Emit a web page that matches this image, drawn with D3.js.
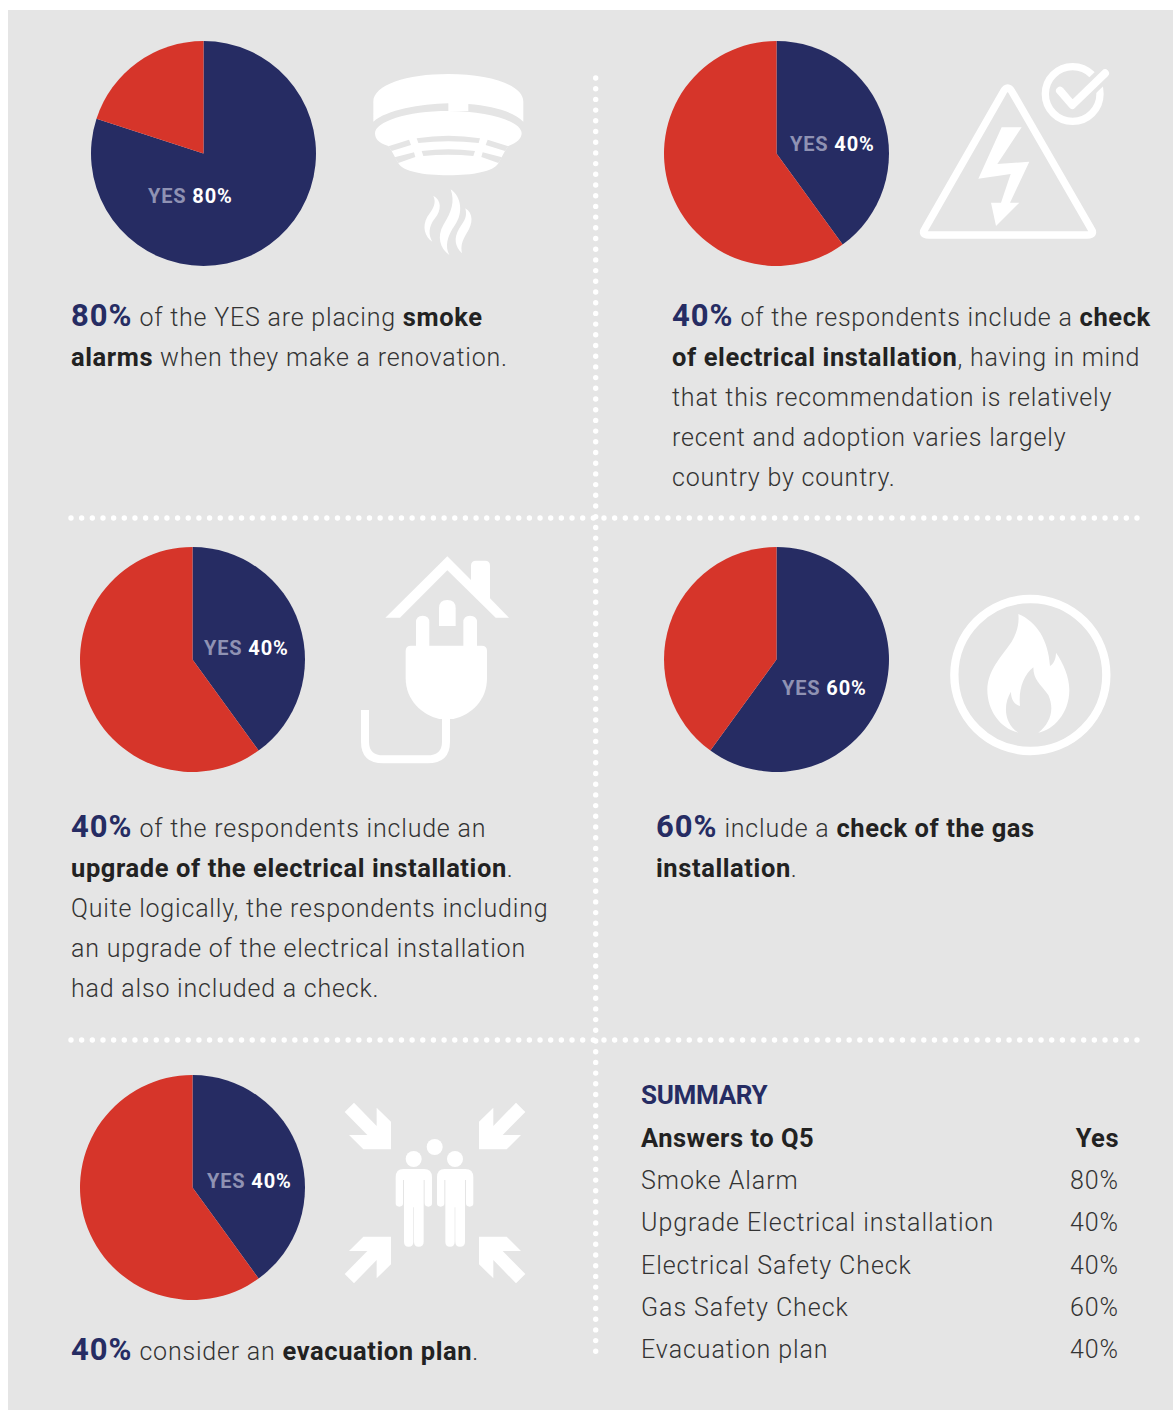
<!DOCTYPE html>
<html>
<head>
<meta charset="utf-8">
<script src="https://cdnjs.cloudflare.com/ajax/libs/d3/7.8.5/d3.min.js"></script>
<style>
html, body { margin: 0; padding: 0; background: #fff; }
svg { display: block; }
text { font-family: Roboto, sans-serif; }
</style>
</head>
<body>
<div id="chart"></div>
<script>
// values
const answers = ["Smoke Alarm", "Upgrade Electrical installation", "Electrical Safety Check", "Gas Safety Check", "Evacuation plan"];
const yesShare = [80, 40, 40, 60, 40];

// order the pies sit on the page: which answer each one shows
const pieAnswer = [0, 2, 1, 3, 4];
const pieCenterX = [203.5, 776.5, 192.5, 776.5, 192.5];
const pieCenterY = [153.5, 153.5, 659.5, 659.5, 1187.5];
const labelDx = [-55.5, 13.5, 11.5, 5.5, 14.5];
const labelDy = [49.5, -2.5, -4.5, 35.5, 0.5];

// b = bold dark, p = navy percent, anything else light
const captions = [
  { x: 71, y: 326, lines: [
    [["p", "80%"], ["", " of the YES are placing "], ["b", "smoke"]],
    [["b", "alarms"], ["", " when they make a renovation."]]
  ]},
  { x: 672, y: 326, lines: [
    [["p", "40%"], ["", " of the respondents include a "], ["b", "check"]],
    [["b", "of electrical installation"], ["", ", having in mind"]],
    [["", "that this recommendation is relatively"]],
    [["", "recent and adoption varies largely"]],
    [["", "country by country."]]
  ]},
  { x: 71, y: 837, lines: [
    [["p", "40%"], ["", " of the respondents include an"]],
    [["b", "upgrade of the electrical installation"], ["", "."]],
    [["", "Quite logically, the respondents including"]],
    [["", "an upgrade of the electrical installation"]],
    [["", "had also included a check."]]
  ]},
  { x: 656, y: 837, lines: [
    [["p", "60%"], ["", " include a "], ["b", "check of the gas"]],
    [["b", "installation"], ["", "."]]
  ]},
  { x: 71, y: 1360, lines: [
    [["p", "40%"], ["", " consider an "], ["b", "evacuation plan"], ["", "."]]
  ]}
];

const width = 1173;
const height = 1410;
const navy = "#262c63";
const red = "#d6352a";
const panel = "#e5e5e5";

const svg = d3.select("#chart")
  .append("svg")
  .attr("width", width)
  .attr("height", height);

svg.append("rect")
  .attr("x", 8).attr("y", 10)
  .attr("width", width - 8).attr("height", height - 10)
  .attr("fill", panel);

// dotted dividers
const dividers = [[595.7, 78, 595.7, 1353, 10.7], [71, 518, 1137, 518, 10.66], [71, 1040, 1137, 1040, 10.66]];
svg.selectAll("line.divider")
  .data(dividers)
  .enter()
  .append("line")
  .attr("class", "divider")
  .attr("x1", d => d[0]).attr("y1", d => d[1])
  .attr("x2", d => d[2]).attr("y2", d => d[3])
  .attr("stroke", "#fff")
  .attr("stroke-width", 5.4)
  .attr("stroke-linecap", "round")
  .attr("stroke-dasharray", d => `0 ${d[4]}`);

// pies
const pie = d3.pie().sort(null);
const arc = d3.arc().innerRadius(0).outerRadius(112.5);

pieAnswer.forEach((a, i) => {
  const g = svg.append("g")
    .attr("transform", `translate(${pieCenterX[i]},${pieCenterY[i]})`);
  const share = yesShare[a];
  g.selectAll("path")
    .data(pie([share, 100 - share]))
    .enter()
    .append("path")
    .attr("d", arc)
    .attr("fill", (d, j) => j === 0 ? navy : red);
  const label = g.append("text")
    .attr("x", labelDx[i])
    .attr("y", labelDy[i])
    .style("font-size", "20px")
    .style("font-weight", 700)
    .style("letter-spacing", "0.85px");
  label.append("tspan").attr("fill", "#8f92b3").text("YES ");
  label.append("tspan").attr("fill", "#fff").text(share + "%");
});

// captions
const runStyle = {
  p: { size: 31, weight: 700, fill: navy, spacing: 1 },
  b: { size: 25.5, weight: 700, fill: "#222", spacing: 0.6 },
  "": { size: 25, weight: 300, fill: "#333", spacing: 0.8 }
};

captions.forEach(c => {
  c.lines.forEach((line, i) => {
    const t = svg.append("text")
      .attr("x", c.x)
      .attr("y", c.y + i * 40)
      .attr("xml:space", "preserve")
      .style("white-space", "pre");
    line.forEach(([kind, str]) => {
      const s = runStyle[kind];
      t.append("tspan")
        .attr("fill", s.fill)
        .style("font-size", s.size + "px")
        .style("font-weight", s.weight)
        .style("letter-spacing", s.spacing + "px")
        .text(str);
    });
  });
});

// summary table
const rowY = d3.scalePoint().domain(answers).range([1189, 1358]);

svg.append("text")
  .attr("x", 641).attr("y", 1104)
  .attr("fill", navy)
  .style("font-size", "26px").style("font-weight", 700)
  .style("letter-spacing", "-0.3px")
  .text("SUMMARY");
svg.append("text")
  .attr("x", 641).attr("y", 1147)
  .attr("fill", "#222")
  .style("font-size", "25.5px").style("font-weight", 700)
  .style("letter-spacing", "0.5px")
  .text("Answers to Q5");
svg.append("text")
  .attr("x", 1119).attr("y", 1147)
  .attr("text-anchor", "end")
  .attr("fill", "#222")
  .style("font-size", "25.5px").style("font-weight", 700)
  .style("letter-spacing", "0.5px")
  .text("Yes");

answers.forEach((a, i) => {
  svg.append("text")
    .attr("x", 641).attr("y", rowY(a))
    .attr("fill", "#333")
    .style("font-size", "25px").style("font-weight", 300)
    .style("letter-spacing", "0.95px")
    .text(a);
  svg.append("text")
    .attr("x", 1119).attr("y", rowY(a))
    .attr("text-anchor", "end")
    .attr("fill", "#333")
    .style("font-size", "25px").style("font-weight", 300)
    .style("letter-spacing", "0.95px")
    .text(yesShare[i] + "%");
});

// icons, drawn at 3x and scaled down
function icon(x, y) {
  return svg.append("g")
    .attr("transform", `translate(${x},${y}) scale(${1 / 3})`)
    .attr("fill", "#fff");
}

// smoke alarm
const alarm = icon(340, 50);
alarm.append("path").attr("d", "M100 215 L100 155 C100 105 200 72 325 72 C450 72 550 105 550 155 L550 215 C520 185 460 168 385 162 L385 183 L325 183 L325 160 C240 162 140 180 100 215 Z");
alarm.append("path").attr("d", "M145 288 C115 280 105 265 105 250 C105 215 200 183 325 183 C450 183 545 215 545 250 C545 265 530 280 505 288 L495 303 L475 340 C460 365 400 376 325 376 C250 376 190 365 175 340 L155 303 Z");
["M145 289 L207 269 L213 285 L155 303 Z", "M230 265 Q325 250 420 265 L416 279 Q325 268 235 279 Z",
 "M505 289 L443 269 L437 285 L495 303 Z", "M164 322 L222 307 L226 321 L175 339 Z",
 "M245 303 Q325 293 405 303 L400 318 Q325 310 250 318 Z", "M486 322 L428 307 L424 321 L475 339 Z"]
  .forEach(d => alarm.append("path").attr("d", d).attr("fill", panel));
alarm.append("path").attr("d", "M332 418 C365 440 370 490 345 525 C320 560 315 590 328 615 C300 595 290 560 310 525 C335 485 345 455 332 418Z");
alarm.append("path").attr("d", "M280 437 C305 450 305 480 285 505 C265 530 265 555 277 575 C255 560 245 530 262 500 C280 475 290 460 280 437Z");
alarm.append("path").attr("d", "M376 475 C400 490 400 520 380 550 C365 575 362 590 366 610 C345 590 340 565 358 535 C375 510 382 500 376 475Z");

// electrical warning with tick
const warn = icon(900, 50);
warn.append("path").attr("d", "M309 127 Q323 101 337 127 L573 536 Q586 555 562 555 L86 555 Q62 555 75 536 Z")
  .attr("fill", "none").attr("stroke", "#fff").attr("stroke-width", 22).attr("stroke-linejoin", "round");
warn.append("path").attr("d", "M305 232 L365 232 L292 342 L388 335 L330 458 L358 458 L288 528 L273 458 L303 458 L332 372 L235 386 Z");
warn.append("circle").attr("cx", 518).attr("cy", 132).attr("r", 82)
  .attr("fill", "none").attr("stroke", "#fff").attr("stroke-width", 22);
warn.append("path").attr("d", "M517 165 L615 70")
  .attr("fill", "none").attr("stroke", panel).attr("stroke-width", 48);
warn.append("path").attr("d", "M480 122 L517 165 L615 70")
  .attr("fill", "none").attr("stroke", "#fff").attr("stroke-width", 24)
  .attr("stroke-linecap", "round").attr("stroke-linejoin", "round");

// house and plug
const plug = icon(340, 545);
plug.append("path").attr("d", "M136 218 L322 34 L393 105 L393 62 Q393 47 408 47 L435 47 Q450 47 450 62 L450 160 L507 218 L467 218 L322 76 L180 218 Z");
plug.append("path").attr("d", "M297 243 L297 190 Q297 165 322 165 Q347 165 347 190 L347 243 Z");
plug.append("path").attr("d", "M228 305 L228 232 Q228 212 248 212 Q268 212 268 232 L268 305 Z");
plug.append("path").attr("d", "M370 305 L370 232 Q370 212 390 212 Q411 212 411 232 L411 305 Z");
plug.append("path").attr("d", "M197 318 Q197 302 213 302 L425 302 Q441 302 441 318 L441 400 C441 465 395 510 340 522 L298 522 C245 510 197 465 197 400 Z");
plug.append("path").attr("d", "M75 495 L75 590 Q75 643 130 643 L262 643 Q318 643 318 590 L318 515")
  .attr("fill", "none").attr("stroke", "#fff").attr("stroke-width", 24);

// flame
const flame = icon(930, 580);
flame.append("circle").attr("cx", 301).attr("cy", 285).attr("r", 228)
  .attr("fill", "none").attr("stroke", "#fff").attr("stroke-width", 25);
flame.append("path").attr("d", "M265 102 C320 125 355 180 360 258 C372 250 378 235 378 218 C400 250 418 290 418 330 C418 400 370 450 325 458 C360 430 375 390 355 345 C330 310 310 300 310 262 C280 285 265 330 270 378 C250 372 243 355 243 335 C220 370 220 430 265 458 C210 445 172 390 172 330 C172 270 215 230 245 185 C262 155 268 130 265 102 Z");

// assembly point
const assembly = icon(330, 1090);
[[1, 0, 1, 0], [-1, 630, 1, 0], [1, 0, -1, 618], [-1, 630, -1, 618]].forEach(([sx, tx, sy, ty]) => {
  assembly.append("path")
    .attr("transform", `translate(${tx},${ty}) scale(${sx},${sy})`)
    .attr("d", "M72 38 L140 108 L140 53 L183 95 L183 178 L100 178 L57 135 L112 135 L44 66 Z");
});
assembly.append("circle").attr("cx", 314).attr("cy", 171).attr("r", 24);
[0, 124].forEach(dx => {
  const p = assembly.append("g").attr("transform", `translate(${dx},0)`);
  p.append("circle").attr("cx", 251).attr("cy", 207).attr("r", 24);
  p.append("path").attr("d", "M220 237 H282 Q306 237 306 262 V340 Q306 350 295 350 Q284 350 284 340 V270 H281 V455 Q281 470 266 470 Q252 470 252 455 V352 H250 V455 Q250 470 236 470 Q222 470 222 455 V270 H219 V340 Q219 350 208 350 Q197 350 197 340 V262 Q197 237 220 237 Z");
});
</script>
</body>
</html>
